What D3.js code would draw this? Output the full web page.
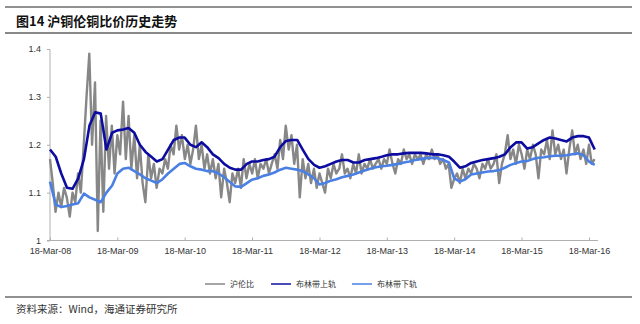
<!DOCTYPE html>
<html>
<head>
<meta charset="utf-8">
<script src="https://cdn.jsdelivr.net/npm/d3@7"></script>
<style>
  body { margin: 0; background: #fff; }
  svg { display: block; }
  .axis text { font-family: "Liberation Sans", Arial, sans-serif; font-size: 9px; fill: #333; }
  .axis path, .axis line { stroke: #b0b0b0; }
  .cjk { font-family: "Noto Sans CJK SC", sans-serif; }
</style>
</head>
<body>
<div id="chart"></div>
<script>
var seriesNames = ["沪伦比", "布林带上轨", "布林带下轨"];
var seriesColors = ["#878787", "#0c0ca0", "#4a80e4"];

// 沪伦比, two readings per month from 18-Mar-2008
var ratio = [
  1.17, 1.12, 1.06, 1.10, 1.07, 1.11, 1.09, 1.05, 1.10, 1.08, 1.14, 1.10,
  1.20, 1.30, 1.39, 1.20, 1.33, 1.02, 1.25, 1.06, 1.26, 1.15, 1.24, 1.14,
  1.22, 1.18, 1.29, 1.17, 1.26, 1.15, 1.22, 1.13, 1.20, 1.12, 1.08, 1.18,
  1.13, 1.16, 1.11, 1.15, 1.14, 1.17, 1.15, 1.20, 1.18, 1.24, 1.19, 1.22,
  1.17, 1.20, 1.16, 1.19, 1.24, 1.17, 1.20, 1.15, 1.18, 1.14, 1.17, 1.13,
  1.16, 1.09, 1.15, 1.12, 1.08, 1.14, 1.12, 1.15, 1.11, 1.17, 1.13, 1.16,
  1.14, 1.17, 1.13, 1.16, 1.15, 1.17, 1.14, 1.16, 1.18, 1.15, 1.21, 1.17,
  1.24, 1.19, 1.22, 1.16, 1.20, 1.09, 1.17, 1.13, 1.16, 1.12, 1.15, 1.11,
  1.14, 1.12, 1.10, 1.15, 1.13, 1.16, 1.14, 1.15, 1.18, 1.14, 1.15, 1.13,
  1.16, 1.14, 1.18, 1.14, 1.16, 1.15, 1.17, 1.15, 1.16, 1.17, 1.15, 1.17,
  1.16, 1.19, 1.16, 1.14, 1.17, 1.16, 1.19, 1.17, 1.18, 1.16, 1.18, 1.17,
  1.18, 1.16, 1.18, 1.17, 1.19, 1.17, 1.18, 1.16, 1.17, 1.15, 1.16, 1.11,
  1.13, 1.14, 1.12, 1.15, 1.13, 1.15, 1.14, 1.16, 1.15, 1.13, 1.16, 1.15,
  1.17, 1.15, 1.16, 1.18, 1.12, 1.16, 1.18, 1.22, 1.17, 1.19, 1.16, 1.20,
  1.18, 1.15, 1.19, 1.17, 1.20, 1.18, 1.13, 1.19, 1.18, 1.21, 1.17, 1.23,
  1.18, 1.20, 1.17, 1.19, 1.14, 1.19, 1.23, 1.18, 1.20, 1.17, 1.19, 1.16,
  1.20, 1.16, 1.17
];

// Bollinger bands, one reading per month from 18-Mar-2008
var upper = [
  1.190, 1.175, 1.140, 1.110, 1.108, 1.130, 1.170, 1.240, 1.268, 1.265, 1.190, 1.225,
  1.230, 1.232, 1.235, 1.225, 1.200, 1.185, 1.175, 1.165, 1.170, 1.190, 1.210, 1.215,
  1.215, 1.200, 1.195, 1.205, 1.195, 1.180, 1.172, 1.160, 1.152, 1.148, 1.148, 1.160,
  1.165, 1.165, 1.168, 1.170, 1.175, 1.195, 1.208, 1.210, 1.210, 1.190, 1.170, 1.158,
  1.152, 1.155, 1.160, 1.165, 1.168, 1.168, 1.163, 1.163, 1.168, 1.170, 1.172, 1.175,
  1.178, 1.180, 1.180, 1.182, 1.183, 1.183, 1.183, 1.182, 1.180, 1.180, 1.178, 1.175,
  1.165, 1.152, 1.155, 1.162, 1.165, 1.168, 1.170, 1.172, 1.175, 1.180, 1.195, 1.205,
  1.205, 1.192, 1.195, 1.203, 1.210, 1.215, 1.213, 1.210, 1.207, 1.215, 1.218, 1.218,
  1.215, 1.190
];
var lower = [
  1.123, 1.075, 1.070, 1.072, 1.075, 1.078, 1.098, 1.090, 1.085, 1.080, 1.100, 1.115,
  1.140, 1.150, 1.152, 1.145, 1.138, 1.130, 1.125, 1.120, 1.128, 1.140, 1.150, 1.160,
  1.162, 1.155, 1.150, 1.148, 1.145, 1.145, 1.140, 1.132, 1.122, 1.113, 1.112, 1.120,
  1.127, 1.130, 1.135, 1.138, 1.142, 1.148, 1.152, 1.150, 1.148, 1.145, 1.138, 1.130,
  1.117, 1.120, 1.125, 1.128, 1.132, 1.135, 1.138, 1.142, 1.146, 1.150, 1.153, 1.155,
  1.156, 1.158, 1.160, 1.163, 1.165, 1.168, 1.170, 1.172, 1.173, 1.172, 1.168, 1.163,
  1.130, 1.123, 1.128, 1.138, 1.140, 1.142, 1.144, 1.145, 1.147, 1.152, 1.158, 1.162,
  1.165, 1.166, 1.170, 1.173, 1.174, 1.176, 1.177, 1.177, 1.178, 1.180, 1.182, 1.178,
  1.165, 1.158
];

var yTicks = [1, 1.1, 1.2, 1.3, 1.4];
var xTickYears = [2008, 2009, 2010, 2011, 2012, 2013, 2014, 2015, 2016];

var W = 640, H = 324;
var start = new Date(2008, 2, 18);

var svg = d3.select("#chart").append("svg")
    .attr("width", W)
    .attr("height", H);

// frame lines and title
svg.append("line").attr("x1", 5).attr("x2", 632).attr("y1", 7).attr("y2", 7)
    .attr("stroke", "#222").attr("stroke-width", 1.2);
svg.append("line").attr("x1", 5).attr("x2", 632).attr("y1", 33).attr("y2", 33)
    .attr("stroke", "#888").attr("stroke-width", 2);
svg.append("text").attr("class", "cjk")
    .attr("x", 16).attr("y", 26)
    .attr("font-size", 13).attr("font-weight", "bold").attr("fill", "#111")
    .text("图14 沪铜伦铜比价历史走势");
svg.append("line").attr("x1", 5).attr("x2", 632).attr("y1", 297).attr("y2", 297)
    .attr("stroke", "#222").attr("stroke-width", 1.2);
svg.append("text").attr("class", "cjk")
    .attr("x", 16).attr("y", 313)
    .attr("font-size", 10.5).attr("fill", "#333")
    .text("资料来源：Wind，海通证券研究所");

var x = d3.scaleTime()
    .domain([start, new Date(2016, 2, 18)])
    .range([50, 589]);
var y = d3.scaleLinear()
    .domain([1, 1.4])
    .range([240.5, 49]);

var g = svg.append("g");

g.append("g").attr("class", "axis")
    .attr("transform", "translate(50,0)")
    .call(d3.axisLeft(y).tickValues(yTicks).tickSize(3).tickPadding(6).tickFormat(function (d) { return String(d); }))
    .call(function (a) { a.select(".domain").attr("d", "M-3,49.5H0V240.5H-3"); });

g.append("g").attr("class", "axis")
    .attr("transform", "translate(0,240.5)")
    .call(d3.axisBottom(x)
        .tickValues(xTickYears.map(function (yr) { return new Date(yr, 2, 18); }))
        .tickSize(-3).tickPadding(7)
        .tickFormat(d3.timeFormat("%d-%b-%y")))
    .call(function (a) { a.select(".domain").attr("d", "M50,0H598"); });

var ratioPts = ratio.map(function (v, i) {
    return { date: d3.timeDay.offset(start, Math.round(i * 365.25 / 24)), value: v };
});
function monthly(arr) {
    return arr.map(function (v, i) { return { date: new Date(2008, 2 + i, 18), value: v }; });
}

var line = d3.line()
    .x(function (d) { return x(d.date); })
    .y(function (d) { return y(d.value); });

var sets = [ratioPts, monthly(upper), monthly(lower)];
var widths = [2.4, 2.6, 2.6];
for (var i = 0; i < sets.length; i++) {
    g.append("path")
        .datum(sets[i])
        .attr("fill", "none")
        .attr("stroke", seriesColors[i])
        .attr("stroke-width", widths[i])
        .attr("stroke-linejoin", "round")
        .attr("d", line);
}

// legend
var legendX = [205, 271, 352];
var leg = svg.append("g");
for (var j = 0; j < seriesNames.length; j++) {
    leg.append("line")
        .attr("x1", legendX[j]).attr("x2", legendX[j] + 20)
        .attr("y1", 284).attr("y2", 284)
        .attr("stroke", seriesColors[j]).attr("stroke-width", 1.5);
    leg.append("text").attr("class", "cjk")
        .attr("x", legendX[j] + 25).attr("y", 287)
        .attr("font-size", 8).attr("fill", "#333")
        .text(seriesNames[j]);
}
</script>
</body>
</html>
